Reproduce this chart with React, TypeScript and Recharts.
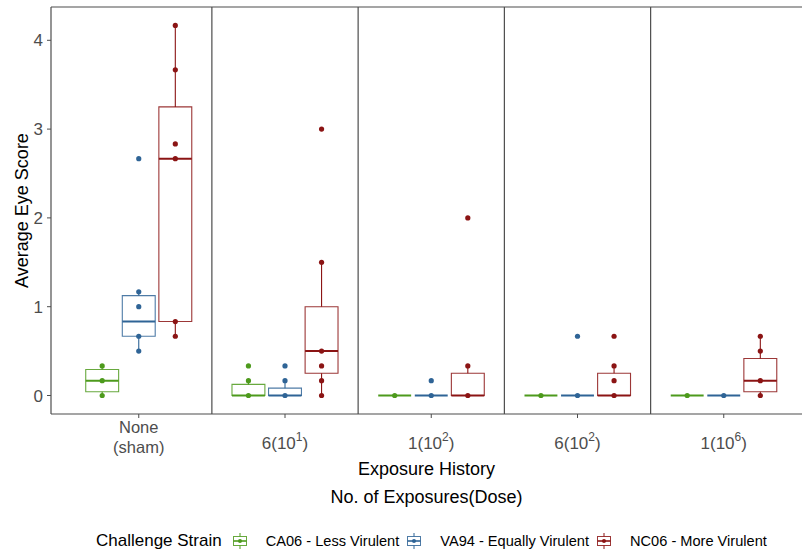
import {
  ComposedChart,
  XAxis,
  YAxis,
  Scatter,
  ReferenceArea,
  ReferenceLine,
  Label,
} from "recharts";

const CATEGORIES = ["None\n(sham)", "6(10^1)", "1(10^2)", "6(10^2)", "1(10^6)"];
const STRAINS = [
  "CA06 - Less Virulent",
  "VA94 - Equally Virulent",
  "NC06 - More Virulent",
];
const COLORS = ["#4d9a1c", "#2f6496", "#8b1414"];
const Y_TICKS = [0, 1, 2, 3, 4];

// box stats per strain, one value per exposure category
const Q1 = [
  [0.042, 0, 0, 0, 0],
  [0.667, 0, 0, 0, 0],
  [0.833, 0.25, 0, 0, 0.042],
];
const MEDIAN = [
  [0.167, 0, 0, 0, 0],
  [0.833, 0, 0, 0, 0],
  [2.667, 0.5, 0, 0, 0.167],
];
const Q3 = [
  [0.292, 0.125, 0, 0, 0],
  [1.125, 0.083, 0, 0, 0],
  [3.25, 1.0, 0.25, 0.25, 0.417],
];
const WHISK_LO = [
  [0, 0, 0, 0, 0],
  [0.5, 0, 0, 0, 0],
  [0.667, 0, 0, 0, 0],
];
const WHISK_HI = [
  [0.333, 0.167, 0, 0, 0],
  [1.167, 0.167, 0, 0, 0],
  [4.167, 1.5, 0.333, 0.333, 0.667],
];

// individual animal scores
const CA06_POINTS = [[0, 0.167, 0.333], [0, 0.167, 0.333], [0], [0], [0]];
const VA94_POINTS = [
  [0.5, 0.667, 1.0, 1.167, 2.667],
  [0, 0.167, 0.333],
  [0, 0.167],
  [0, 0.667],
  [0],
];
const NC06_POINTS = [
  [0.667, 0.833, 2.667, 2.833, 3.667, 4.167],
  [0, 0.167, 0.333, 0.5, 1.5, 3.0],
  [0, 0.333, 2.0],
  [0, 0.167, 0.333, 0.667],
  [0, 0.167, 0.5, 0.667],
];
const POINTS = [CA06_POINTS, VA94_POINTS, NC06_POINTS];

const X_DOMAIN = [0.4, 5.535];
const Y_DOMAIN = [-0.2083, 4.375];
const DODGE = [-0.25, 0, 0.25];
const HALF_BOX = 0.1125;
const LINE = "#4d4d4d";
const TEXT = "#4d4d4d";
const FONT = "'Liberation Sans', Arial, sans-serif";

const XTick = ({ x, y, payload }: any) => {
  const label = CATEGORIES[Math.round(payload.value) - 1] || "";
  if (label.includes("\n")) {
    const [a, b] = label.split("\n");
    return (
      <text x={x} textAnchor="middle" fill={TEXT} fontSize={16.5} fontFamily={FONT}>
        <tspan x={x} y={y + 7} dominantBaseline="central">{a}</tspan>
        <tspan x={x} y={y + 27} dominantBaseline="central">{b}</tspan>
      </text>
    );
  }
  const m = label.match(/^(.*)\^(\d+)(\))$/);
  const base = m ? m[1] : label;
  const exp = m ? m[2] : "";
  const tail = m ? m[3] : "";
  return (
    <text
      x={x}
      y={y + 29}
      textAnchor="middle"
      fill={TEXT}
      fontSize={17}
      fontFamily={FONT}
    >
      <tspan>{base}</tspan>
      <tspan dy={-8} fontSize={12}>{exp}</tspan>
      <tspan dy={8}>{tail}</tspan>
    </text>
  );
};

const XTitle = ({ viewBox }: any) => {
  const cx = viewBox.x + viewBox.width / 2;
  return (
    <g fill="#000" fontSize={18} fontFamily={FONT} textAnchor="middle">
      <text x={cx} y={viewBox.y + 61}>Exposure History</text>
      <text x={cx} y={viewBox.y + 89}>No. of Exposures(Dose)</text>
    </g>
  );
};

const YTitle = ({ viewBox }: any) => {
  const cy = viewBox.y + viewBox.height / 2;
  return (
    <text
      x={28}
      y={cy}
      transform={`rotate(-90, 28, ${cy})`}
      textAnchor="middle"
      fill="#000"
      fontSize={18}
      fontFamily={FONT}
    >
      Average Eye Score
    </text>
  );
};

const LegendKey = ({ color }: { color: string }) => (
  <svg width={16} height={18} style={{ display: "block" }}>
    <line x1={8} x2={8} y1={1} y2={17} stroke={color} strokeWidth={1} />
    <rect x={1.5} y={4.5} width={13} height={9} fill="white" stroke={color} strokeOpacity={0.85} />
    <line x1={1.5} x2={14.5} y1={9} y2={9} stroke={color} strokeWidth={1.6} />
    <circle cx={8} cy={9} r={2} fill={color} />
  </svg>
);

export default function App() {
  const series = STRAINS.map((name, s) => ({
    name,
    color: COLORS[s],
    points: POINTS[s].flatMap((vals, c) =>
      vals.map((v) => ({ x: c + 1 + DODGE[s], y: v }))
    ),
  }));

  const separators = CATEGORIES.slice(1).map((_, i) => i + 1.5);

  return (
    <div
      style={{
        position: "absolute",
        left: 0,
        top: 0,
        width: 802,
        height: 552,
        overflow: "hidden",
        background: "white",
        fontFamily: FONT,
      }}
    >
      <ComposedChart
        width={802}
        height={552}
        margin={{ top: 7, right: 0, bottom: 0, left: 0 }}
      >
        <XAxis
          dataKey="x"
          type="number"
          domain={X_DOMAIN}
          allowDataOverflow
          ticks={[1, 2, 3, 4, 5]}
          tick={<XTick />}
          tickSize={4}
          tickMargin={2}
          height={138}
          axisLine={{ stroke: LINE, strokeWidth: 1.2 }}
          tickLine={{ stroke: LINE }}
          interval={0}
        >
          <Label content={<XTitle />} />
        </XAxis>
        <YAxis
          type="number"
          domain={Y_DOMAIN}
          allowDataOverflow
          ticks={Y_TICKS}
          width={51}
          tickSize={4}
          tickMargin={4}
          tick={{ fill: TEXT, fontSize: 17, fontFamily: FONT }}
          axisLine={{ stroke: LINE, strokeWidth: 1.2 }}
          tickLine={{ stroke: LINE }}
        >
          <Label content={<YTitle />} />
        </YAxis>

        <ReferenceLine y={Y_DOMAIN[1]} stroke={LINE} strokeWidth={1.2} ifOverflow="visible" />
        {separators.map((x) => (
          <ReferenceLine key={`sep-${x}`} x={x} stroke={LINE} strokeWidth={1.2} />
        ))}

        {STRAINS.map((_, s) =>
          CATEGORIES.map((__, c) => {
            const cx = c + 1 + DODGE[s];
            const color = COLORS[s];
            return [
              <ReferenceLine
                key={`wl-${s}-${c}`}
                segment={[
                  { x: cx, y: WHISK_LO[s][c] },
                  { x: cx, y: Q1[s][c] },
                ]}
                stroke={color}
                strokeWidth={1.1}
              />,
              <ReferenceLine
                key={`wh-${s}-${c}`}
                segment={[
                  { x: cx, y: Q3[s][c] },
                  { x: cx, y: WHISK_HI[s][c] },
                ]}
                stroke={color}
                strokeWidth={1.1}
              />,
              <ReferenceArea
                key={`box-${s}-${c}`}
                x1={cx - HALF_BOX}
                x2={cx + HALF_BOX}
                y1={Q1[s][c]}
                y2={Q3[s][c]}
                fill="white"
                fillOpacity={1}
                stroke={color}
                strokeOpacity={0.85}
                strokeWidth={1.1}
              />,
              <ReferenceLine
                key={`med-${s}-${c}`}
                segment={[
                  { x: cx - HALF_BOX, y: MEDIAN[s][c] },
                  { x: cx + HALF_BOX, y: MEDIAN[s][c] },
                ]}
                stroke={color}
                strokeWidth={2}
              />,
            ];
          })
        )}

        {series.map((sr) => (
          <Scatter
            key={sr.name}
            name={sr.name}
            data={sr.points}
            dataKey="y"
            isAnimationActive={false}
            shape={(p: any) => (
              <circle cx={p.cx} cy={p.cy} r={2.6} fill={sr.color} />
            )}
          />
        ))}
      </ComposedChart>

      <div
        style={{
          position: "absolute",
          left: 96,
          top: 531,
          height: 20,
          display: "flex",
          alignItems: "center",
          color: "#000",
          whiteSpace: "nowrap",
        }}
      >
        <span style={{ fontSize: 17, marginRight: 10 }}>Challenge Strain</span>
        {STRAINS.map((name, s) => (
          <div
            key={name}
            style={{ display: "flex", alignItems: "center", marginRight: 7 }}
          >
            <LegendKey color={COLORS[s]} />
            <span style={{ fontSize: 14.6, marginLeft: 18 }}>{name}</span>
          </div>
        ))}
      </div>
    </div>
  );
}
